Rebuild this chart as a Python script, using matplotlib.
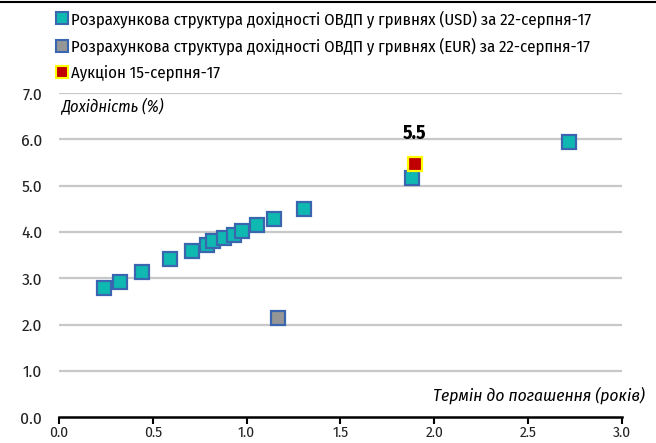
import matplotlib.pyplot as plt
from matplotlib.lines import Line2D
from matplotlib import font_manager
from matplotlib.ft2font import FT2Font


# вузький шрифт з кирилицею, якщо є
def has_cyr(path):
    try:
        return ord('Р') in FT2Font(path).get_charmap()
    except Exception:
        return False


narrow = sorted({f.name for f in font_manager.fontManager.ttflist
                 if ('Narrow' in f.name or 'Condensed' in f.name) and has_cyr(f.fname)})
base = narrow[0] if narrow else 'Roboto'
plt.rcParams['font.family'] = [base, 'DejaVu Sans']

# дані
usd_term = [0.24, 0.325, 0.44, 0.59, 0.71, 0.79, 0.82, 0.88, 0.93, 0.975, 1.055, 1.145, 1.305, 1.88, 2.72]
usd_yield = [2.80, 2.93, 3.14, 3.41, 3.60, 3.73, 3.80, 3.88, 3.94, 4.03, 4.15, 4.27, 4.49, 5.17, 5.94]
eur_term = [1.165]
eur_yield = [2.15]
auction_term = [1.895]
auction_yield = [5.47]
auction_label = '5.5'

yticks = [0, 1, 2, 3, 4, 5, 6, 7]
xticks = [0, 0.5, 1.0, 1.5, 2.0, 2.5, 3.0]

fig = plt.figure(figsize=(6.56, 4.43), dpi=100)
ax = fig.add_axes([0.09, 0.058, 0.858, 0.732])

# сітка
for y in yticks[1:]:
    ax.axhline(y, color='#c8c8c8', lw=1.6, zorder=0)

ax.plot(usd_term, usd_yield, 's', ms=10.5, mfc='#10b8b2', mec='#3a66b0', mew=1.6, ls='none', zorder=3)
ax.plot(eur_term, eur_yield, 's', ms=10.5, mfc='#969696', mec='#3a66b0', mew=1.6, ls='none', zorder=3)
ax.plot(auction_term, auction_yield, 's', ms=10.5, mfc='#c00000', mec='#ffff00', mew=1.6, ls='none', zorder=4)
ax.text(auction_term[0], auction_yield[0] + 0.45, auction_label, fontsize=14, fontweight='bold',
        ha='center', va='bottom')

ax.set_xlim(0, 3)
ax.set_ylim(0, 7)
ax.set_xticks(xticks)
ax.set_xticklabels(['%.1f' % v for v in xticks], fontsize=11, color='#222222')
ax.set_yticks(yticks)
ax.set_yticklabels(['%.1f' % v for v in yticks], fontsize=12.5, color='#222222')
ax.tick_params(axis='y', length=0, pad=12)
ax.tick_params(axis='x', length=5, width=1.5, direction='out', pad=1)

for s in ['top', 'right', 'left']:
    ax.spines[s].set_visible(False)
ax.spines['bottom'].set_linewidth(1.8)
ax.spines['bottom'].set_color('black')

ax.text(0.003, 0.985, 'Дохідність (%)', transform=ax.transAxes, fontsize=11.8, style='italic',
        ha='left', va='top', bbox=dict(facecolor='white', edgecolor='none', pad=1.5), zorder=2)
ax.text(1.04, 0.04, 'Термін до погашення (років)', transform=ax.transAxes, fontsize=12.5,
        style='italic', ha='right', va='bottom')

# легенда
handles = [
    Line2D([], [], marker='s', ls='none', ms=9, mfc='#10b8b2', mec='#3a66b0', mew=1.5),
    Line2D([], [], marker='s', ls='none', ms=9, mfc='#969696', mec='#3a66b0', mew=1.5),
    Line2D([], [], marker='s', ls='none', ms=9, mfc='#c00000', mec='#ffff00', mew=1.5),
]
labels = [
    'Розрахункова структура дохідності ОВДП у гривнях (USD) за 22-серпня-17',
    'Розрахункова структура дохідності ОВДП у гривнях (EUR) за 22-серпня-17',
    'Аукціон 15-серпня-17',
]
fig.legend(handles, labels, loc='upper left', bbox_to_anchor=(0.072, 1.0), frameon=False,
           fontsize=12, handlelength=0.6, handletextpad=0.2, labelspacing=0.6, borderaxespad=0.2)

fig.add_artist(Line2D([0, 1], [0.996, 0.996], color='black', lw=1.5, transform=fig.transFigure))

plt.savefig('out.png', dpi=100)
